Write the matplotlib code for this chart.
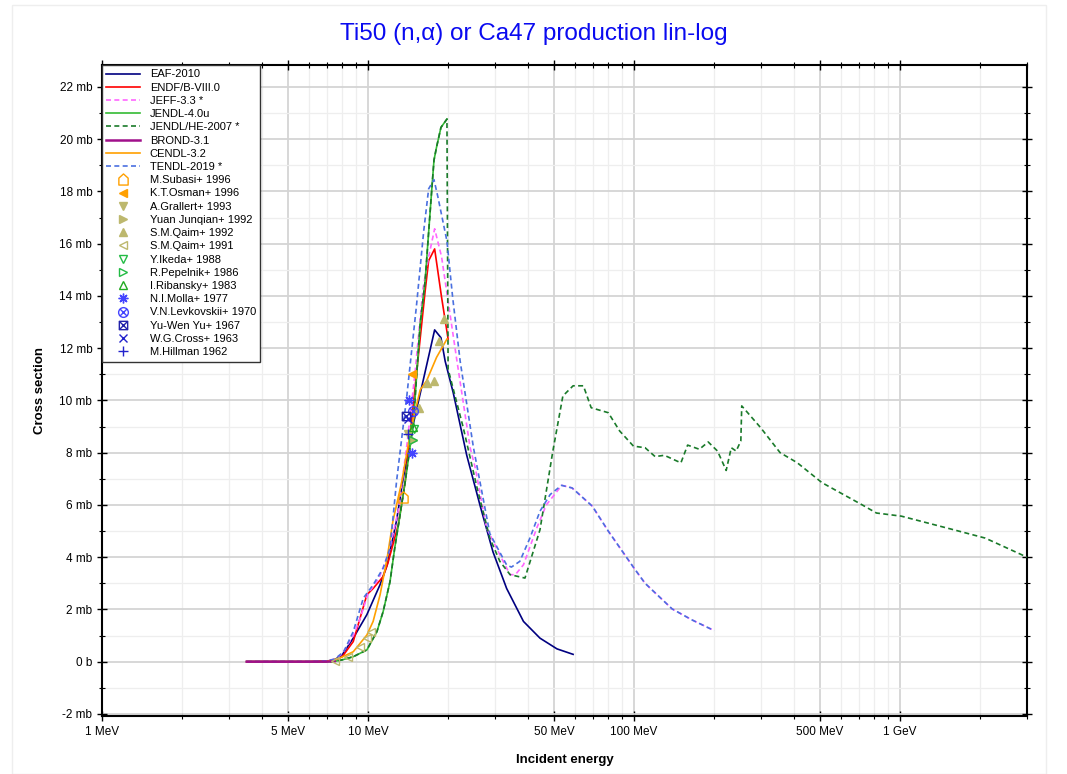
import matplotlib
matplotlib.use("Agg")
import matplotlib.pyplot as plt
from matplotlib.path import Path
from matplotlib.patches import Rectangle
import numpy as np

plt.rcParams['font.family'] = ['Liberation Sans', 'DejaVu Sans']

# ---------------- data (energies in MeV, cross sections in mb) ----------------
eaf_E = [3.5, 5, 6, 7, 7.5, 8.0, 8.8, 9.9, 11.1, 11.8, 12.8, 13.5, 14.8, 17.8, 18.8, 19.5, 20.9, 23.5, 26.5, 29.5, 33.2, 38.4, 44.3, 51.3, 59.0]
eaf_S = [0, 0, 0, 0.02, 0.08, 0.26, 0.9, 1.8, 2.95, 3.7, 5.4, 6.9, 9.1, 12.7, 12.4, 11.5, 10.3, 7.9, 5.9, 4.2, 2.8, 1.54, 0.9, 0.49, 0.28]

endf_E = [3.5, 5, 6, 7, 7.5, 8.0, 8.8, 9.9, 10.45, 11.4, 11.9, 13.0, 13.8, 16.4, 16.9, 17.8, 18.9, 20.0]
endf_S = [0, 0, 0, 0.02, 0.06, 0.19, 0.77, 2.56, 2.8, 3.26, 3.8, 5.25, 6.9, 14.2, 15.35, 15.8, 13.95, 12.35]

jeff_E = [3.5, 5, 6, 7, 7.5, 8.0, 8.8, 9.3, 10.0, 11.0, 12.0, 13.0, 14.0, 15.0, 16.1, 16.9, 17.8, 18.9, 20.0, 21.6, 24.2, 25.3, 27.9, 32.2, 34.2, 35.8, 38.4, 43.1, 46.8, 53.5, 58.5, 69.7, 80.1, 100, 110, 139, 165, 200]
jeff_S = [0, 0, 0, 0.03, 0.1, 0.3, 1.0, 1.6, 2.6, 3.2, 4.2, 5.8, 8.3, 11.0, 14.3, 15.5, 16.57, 15.5, 13.8, 11.5, 8.19, 7.42, 5.12, 3.84, 3.33, 3.33, 3.71, 5.12, 6.0, 6.75, 6.65, 5.95, 4.99, 3.58, 3.0, 2.02, 1.6, 1.19]

jendl4_E = [3.5, 6, 7.4, 8.0, 8.8, 9.9, 10.8, 11.4, 12.1, 12.6, 13.2, 13.8, 14.8, 15.7, 16.4, 17.0, 17.4, 17.7, 18.1, 18.8, 19.8]
jendl4_S = [0, 0, 0, 0.07, 0.19, 0.45, 1.15, 1.92, 3.07, 4.35, 5.63, 6.9, 9.1, 12.9, 14.6, 16.8, 18.2, 19.2, 19.7, 20.45, 20.77]

jendlhe_E = jendl4_E + [20.0, 22.8, 25.7, 28.7, 31.3, 34.2, 38.9, 44.3, 49.5, 54.0, 59.0, 64.5, 69.0, 80.0, 88.3, 99.5, 110, 120, 130, 150, 159, 176, 190, 206, 222, 232, 242, 252, 254, 299, 354, 410, 509, 718, 815, 1011, 1589, 2090, 3000]
jendlhe_S = jendl4_S + [11.2, 8.96, 6.65, 4.73, 3.84, 3.33, 3.2, 5.05, 8.05, 10.17, 10.56, 10.56, 9.72, 9.53, 8.83, 8.25, 8.19, 7.85, 7.9, 7.61, 8.29, 8.13, 8.41, 8.06, 7.32, 8.19, 8.06, 8.45, 9.79, 8.96, 8.0, 7.62, 6.85, 6.01, 5.69, 5.57, 5.05, 4.73, 4.0]

brond_E = [3.5, 5, 6, 7, 7.5]
brond_S = [0, 0, 0, 0, 0.02]

cendl_E = [3.5, 6, 7.0, 7.8, 8.8, 9.9, 10.45, 11.1, 11.8, 12.4, 13.4, 14.5, 15.7, 16.6, 18.1, 19.8]
cendl_S = [0, 0, 0.01, 0.13, 0.38, 1.02, 1.54, 2.56, 3.97, 5.37, 6.9, 8.9, 10.4, 10.75, 11.65, 12.35]

tendl_E = [3.5, 5, 6, 7, 7.5, 8.1, 8.8, 9.6, 10.45, 11.4, 12.1, 12.8, 14.0, 15.2, 16.2, 16.9, 17.7, 18.3, 19.8, 20.8, 22.2, 24.9, 28.7, 33.2, 34.6, 37.2, 40.6, 44.3, 48.4, 53.4, 58.5, 69.7, 80.1, 100, 110, 139, 165, 200]
tendl_S = [0, 0, 0, 0.03, 0.1, 0.38, 1.15, 2.43, 2.94, 3.58, 4.35, 6.9, 10.2, 13.6, 16.5, 18.1, 18.45, 17.8, 16.1, 13.95, 11.5, 8.2, 4.9, 3.7, 3.62, 3.84, 4.73, 5.76, 6.4, 6.75, 6.65, 5.95, 4.99, 3.58, 3.0, 2.02, 1.6, 1.19]

subasi_E, subasi_S = [13.5], [6.3]
osman_E, osman_S = [14.6], [11.0]
grallert_E, grallert_S = [14.1], [8.7]
yuan_E, yuan_S = [14.7], [8.5]
qaim92_E = [15.6, 16.7, 17.7, 18.5, 19.3]
qaim92_S = [9.7, 10.65, 10.75, 12.26, 13.1]
qaim91_E = [7.5, 8.4, 9.3, 9.9, 10.3]
qaim91_S = [0.02, 0.19, 0.58, 0.9, 1.15]
ikeda_E, ikeda_S = [14.9], [8.9]
pepelnik_E, pepelnik_S = [14.8], [8.5]
ribansky_E, ribansky_S = [14.7], [9.0]
molla_E, molla_S = [14.3, 14.6], [10.0, 8.0]
levk_E, levk_S = [14.8], [9.6]
yu_E, yu_S = [13.9], [9.4]
cross_E, cross_S = [14.1], [9.3]
hillman_E, hillman_S = [14.1], [8.7]

x_ticks = [1, 5, 10, 50, 100, 500, 1000]
x_ticklabels = ['1 MeV', '5 MeV', '10 MeV', '50 MeV', '100 MeV', '500 MeV', '1 GeV']
y_ticks = [-2, 0, 2, 4, 6, 8, 10, 12, 14, 16, 18, 20, 22]
y_ticklabels = ['-2 mb', '0 b'] + [f'{v} mb' for v in y_ticks[2:]]

# ---------------- custom markers ----------------
house = Path([(-0.5, -0.6), (0.5, -0.6), (0.5, 0.15), (0.0, 0.6), (-0.5, 0.15), (-0.5, -0.6)],
             [Path.MOVETO, Path.LINETO, Path.LINETO, Path.LINETO, Path.LINETO, Path.CLOSEPOLY])
d = 0.7071
circx = Path.make_compound_path(
    Path.unit_circle(),
    Path([(-d, -d), (d, d)], [Path.MOVETO, Path.LINETO]),
    Path([(-d, d), (d, -d)], [Path.MOVETO, Path.LINETO]))
sqx = Path.make_compound_path(
    Path([(-1, -1), (1, -1), (1, 1), (-1, 1), (-1, -1)],
         [Path.MOVETO, Path.LINETO, Path.LINETO, Path.LINETO, Path.CLOSEPOLY]),
    Path([(-1, -1), (1, 1)], [Path.MOVETO, Path.LINETO]),
    Path([(-1, 1), (1, -1)], [Path.MOVETO, Path.LINETO]))

# ---------------- figure ----------------
W, H = 1067, 774
fig = plt.figure(figsize=(W / 100, H / 100), dpi=100)
fig.patches.append(Rectangle((12 / W, 0), (1046 - 12) / W, (H - 5) / H, transform=fig.transFigure,
                             fill=False, edgecolor='#eeeeee', linewidth=1.0))
ax = fig.add_axes([102 / W, 58 / H, 925 / W, 651 / H])
ax.set_xscale('log')
ax.set_xlim(1, 3000)
ax.set_ylim(-2.08, 22.84)

lw = 1.2
ax.plot(eaf_E, eaf_S, color='#000080', lw=lw, label='EAF-2010', zorder=3)
ax.plot(endf_E, endf_S, color='#ff0000', lw=lw, label='ENDF/B-VIII.0', zorder=3)
ax.plot(jeff_E, jeff_S, color='#ff66ff', lw=lw, ls=(0, (3, 2)), label='JEFF-3.3 *', zorder=3)
ax.plot(jendl4_E, jendl4_S, color='#33bb33', lw=lw, label='JENDL-4.0u', zorder=3)
ax.plot(jendlhe_E, jendlhe_S, color='#1a7a2a', lw=lw, ls=(0, (3, 2)), label='JENDL/HE-2007 *', zorder=3)
ax.plot(brond_E, brond_S, color='#a0108a', lw=1.8, label='BROND-3.1', zorder=4)
ax.plot(cendl_E, cendl_S, color='#ffa000', lw=lw, label='CENDL-3.2', zorder=3)
ax.plot(tendl_E, tendl_S, color='#4a70e0', lw=lw, ls=(0, (3, 2)), label='TENDL-2019 *', zorder=3)

khaki = '#bdb86e'
exp = [
    (subasi_E, subasi_S, house, '#ffa000', False, 'M.Subasi+ 1996', 8),
    (osman_E, osman_S, '<', '#ffa000', True, 'K.T.Osman+ 1996', 6),
    (grallert_E, grallert_S, 'v', khaki, True, 'A.Grallert+ 1993', 6),
    (yuan_E, yuan_S, '>', khaki, True, 'Yuan Junqian+ 1992', 6),
    (qaim92_E, qaim92_S, '^', khaki, True, 'S.M.Qaim+ 1992', 6),
    (qaim91_E, qaim91_S, '<', khaki, False, 'S.M.Qaim+ 1991', 6),
    (ikeda_E, ikeda_S, 'v', '#22bb44', False, 'Y.Ikeda+ 1988', 6),
    (pepelnik_E, pepelnik_S, '>', '#22bb44', False, 'R.Pepelnik+ 1986', 6),
    (ribansky_E, ribansky_S, '^', '#22aa22', False, 'I.Ribansky+ 1983', 6),
    (molla_E, molla_S, (8, 2, 0), '#4444ff', False, 'N.I.Molla+ 1977', 7),
    (levk_E, levk_S, circx, '#4444ff', False, 'V.N.Levkovskii+ 1970', 7),
    (yu_E, yu_S, sqx, '#2222aa', False, 'Yu-Wen Yu+ 1967', 6),
    (cross_E, cross_S, 'x', '#2222cc', False, 'W.G.Cross+ 1963', 6),
    (hillman_E, hillman_S, '+', '#2222cc', False, 'M.Hillman 1962', 7),
]
for E, S, m, c, filled, lab, ms in exp:
    if filled:
        ax.plot(E, S, ls='none', marker=m, ms=ms, color=c, mec=c, mfc=c, label=lab, zorder=5)
    else:
        ax.plot(E, S, ls='none', marker=m, ms=ms, color=c, mec=c, mfc='none', mew=1.0, label=lab, zorder=5)

# ticks and grid
ax.set_xticks(x_ticks)
ax.set_xticklabels(x_ticklabels)
minor_x = [m * 10 ** k for k in range(0, 4) for m in range(2, 10) if m != 5 and m * 10 ** k <= 3000]
ax.set_xticks(minor_x, minor=True)
ax.xaxis.set_minor_formatter(matplotlib.ticker.NullFormatter())
ax.set_yticks(y_ticks)
ax.set_yticklabels(y_ticklabels)
ax.set_yticks(np.arange(-2, 23, 1), minor=True)

ax.grid(True, which='major', color='#d4d4d4', lw=1.3, zorder=0)
ax.grid(True, which='minor', color='#eeeeee', lw=0.9, zorder=0)
ax.set_axisbelow(True)

ax.tick_params(which='both', direction='inout', top=True, right=True, labelsize=8.5, color='black')
ax.tick_params(which='major', length=7, width=1)
ax.tick_params(which='minor', length=4, width=0.8)
for s in ax.spines.values():
    s.set_linewidth(1.5)
    s.set_color('black')

ax.set_xlabel('Incident energy', fontsize=9.5, fontweight='bold', labelpad=12)
ax.set_ylabel('Cross section', fontsize=9.5, fontweight='bold', labelpad=10)
fig.text(0.5, 1 - 34 / H, 'Ti50 (n,\u03b1) or Ca47 production lin-log', ha='center', va='center',
         fontsize=17.5, color='#0a0af0')

leg = ax.legend(loc='upper left', bbox_to_anchor=(0, 1), borderaxespad=0, fontsize=8,
                labelspacing=0.29, handlelength=3.0, handletextpad=0.9, frameon=True,
                fancybox=False, edgecolor='#333333', framealpha=1, borderpad=0.4, numpoints=1)
leg.get_frame().set_linewidth(1.0)
leg.set_zorder(10)

fig.savefig('out.png', dpi=100)
